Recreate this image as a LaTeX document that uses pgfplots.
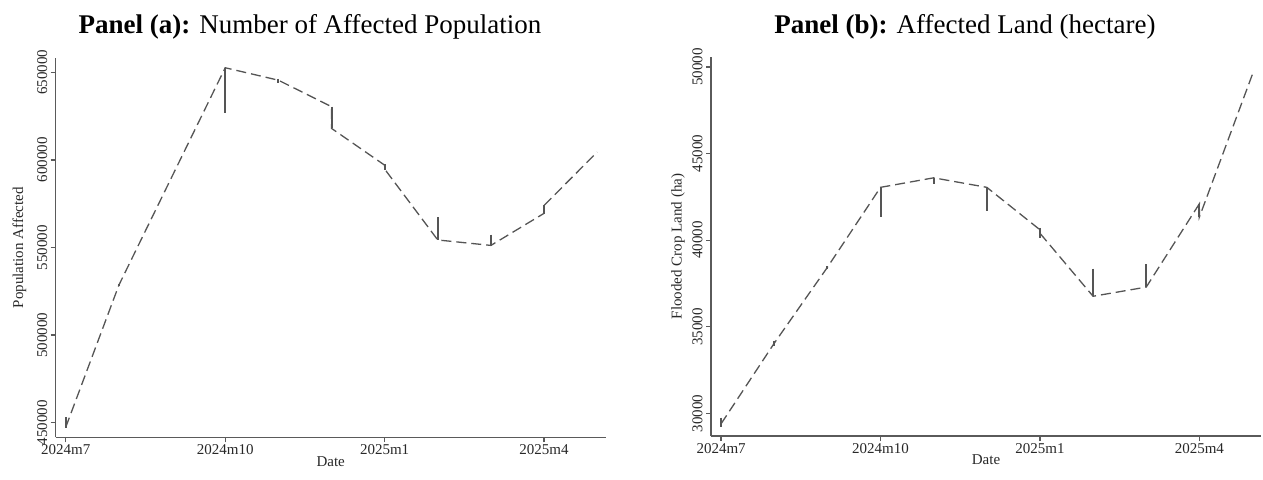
\documentclass[border=0pt]{standalone}
\usepackage{fontspec}
\setmainfont{Liberation Serif}
\usepackage{pgfplots}
\pgfplotsset{compat=1.18}
\definecolor{lc}{RGB}{85,85,85}
\definecolor{ac}{RGB}{90,90,90}
\definecolor{tc}{RGB}{40,40,40}
\pgfplotsset{
  stata/.style={
    scale only axis,
    width=275pt, height=189.5pt,
    axis x line*=bottom, axis y line*=left,
    axis line style={ac, line width=0.65pt},
    tick style={ac, line width=0.65pt},
    tick align=outside,
    major tick length=2.5pt,
    xmin=-0.19, xmax=10.16,
    xtick={0,3,6,9},
    xticklabels={2024m7,2024m10,2025m1,2025m4},
    scaled y ticks=false,
    /pgf/number format/assume math mode=true,
    yticklabel style={/pgf/number format/fixed, /pgf/number format/1000 sep={}, rotate=90, anchor=south, inner sep=1.5pt, font=\fontsize{7.5}{8}\selectfont, text=tc},
    xticklabel style={font=\fontsize{7.5}{8}\selectfont, text=tc, inner sep=1pt},
    xlabel={Date},
    xlabel style={at={(axis description cs:0.5,-0.063)}, anchor=center, font=\fontsize{7.5}{8}\selectfont, text=tc},
    ylabel style={anchor=center, font=\fontsize{7.5}{8}\selectfont, text=tc},
    unbounded coords=jump,
    clip=false,
  },
  dashl/.style={lc, line width=0.65pt, dash pattern=on 5pt off 2.5pt},
  rng/.style={lc, line width=1pt},
}
\begin{document}
\begin{tikzpicture}
\useasboundingbox (0,0) rectangle (631.5pt,239.5pt);
\node[anchor=base, font=\fontsize{13.5}{16}\selectfont] at (155pt,223pt) {\textbf{Panel (a):} Number of Affected Population};
\node[anchor=base, font=\fontsize{13.5}{16}\selectfont] at (482.5pt,223pt) {\textbf{Panel (b):} Affected Land (hectare)};

\begin{axis}[stata, at={(27.85pt,20.85pt)}, anchor=south west,
  ymin=441666, ymax=657991,
  ytick={450000,500000,550000,600000,650000},
  ylabel={Population Affected},
  ylabel style={at={(axis description cs:-0.066,0.5)}},
]
\addplot[dashl] coordinates {
 (0,447500) (1,528600) (2,590600) (3,652600) (4,645500) (5,630400) (5,618000)
 (6,597000) (6,594800) (7,554300) (8,551200) (9,569500) (9,574000) (10,604500)
};
\addplot[rng] coordinates {
 (0,453000) (0,447000) (0,nan)
 (1,529300) (1,528300) (1,nan)
 (3,652600) (3,626600) (3,nan)
 (4,646300) (4,643700) (4,nan)
 (5,630400) (5,618000) (5,nan)
 (6,597500) (6,594300) (6,nan)
 (7,567300) (7,554300) (7,nan)
 (8,557400) (8,551100) (8,nan)
 (9,574500) (9,569000)
};
\end{axis}

\begin{axis}[stata, at={(355.5pt,21.5pt)}, anchor=south west,
  ymin=28692, ymax=50576,
  ytick={30000,35000,40000,45000,50000},
  ylabel={Flooded Crop Land (ha)},
  ylabel style={at={(axis description cs:-0.06,0.5)}},
]
\addplot[dashl] coordinates {
 (0,29400) (1,34050) (2,38430) (3,43050) (4,43600) (5,43050) (6,40600) (6,40400)
 (7,36760) (8,37290) (9,42100) (9,41330) (10,49590)
};
\addplot[rng] coordinates {
 (0,29750) (0,29230) (0,nan)
 (1,34200) (1,33900) (1,nan)
 (2,38500) (2,38350) (2,nan)
 (3,43050) (3,41320) (3,nan)
 (4,43600) (4,43250) (4,nan)
 (5,43050) (5,41710) (5,nan)
 (6,40710) (6,40140) (6,nan)
 (7,38350) (7,36760) (7,nan)
 (8,38600) (8,37290) (8,nan)
 (9,42100) (9,41330)
};
\end{axis}
\end{tikzpicture}
\end{document}
